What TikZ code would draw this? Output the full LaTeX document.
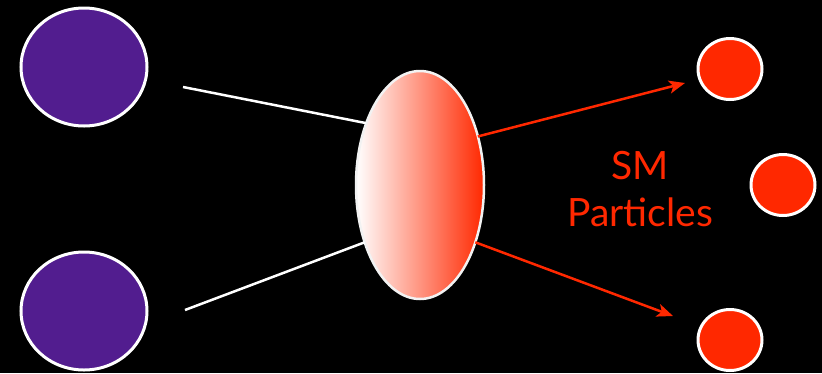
\documentclass[tikz,border=0pt]{standalone}
\usepackage{fontspec}
\setmainfont{Lato}
\usetikzlibrary{shapes.geometric,arrows.meta}
\definecolor{smred}{RGB}{255,40,0}
\definecolor{dmpurple}{RGB}{82,29,143}
\begin{document}
\begin{tikzpicture}[x=1pt, y=-1pt,
    incoming/.style={ellipse, draw=white, line width=3pt, fill=dmpurple, minimum width=126pt, minimum height=118pt, inner sep=0pt},
    outgoing/.style={ellipse, draw=white, line width=3pt, fill=smred, minimum width=64pt, minimum height=61pt, inner sep=0pt},
    leg/.style={draw=white, line width=2.5pt},
    decay/.style={draw=smred, line width=2.5pt, -{Stealth[length=16pt,width=13pt,inset=4pt]}}]
    \fill[black] (0,0) rectangle (822,373);
    \useasboundingbox (0,0) rectangle (822,373);
    \node[incoming] (dmA) at (84,67) {};
    \node[incoming] (dmB) at (84,311) {};
    \node[ellipse, draw=white!90!gray, line width=2.5pt, left color=white, right color=smred, minimum width=128pt, minimum height=228pt, inner sep=0pt, outer sep=0pt] (blob) at (420,185) {};
    \node[outgoing] (smA) at (730,69) {};
    \node[outgoing] (smB) at (783,185) {};
    \node[outgoing] (smC) at (730,340) {};
    \node[text=smred, align=center, font=\fontsize{39}{47}\selectfont] (label) at (640,189) {SM\\Particles};
    \coordinate (inA) at (183,87);
    \coordinate (inB) at (185,310);
    \coordinate (outA) at (685,83);
    \coordinate (outB) at (673,316);
    \draw[leg] (inA) -- (blob.131.6);
    \draw[leg] (inB) -- (blob.226.5);
    \draw[decay] (blob.40) -- (outA);
    \draw[decay] (blob.-46.5) -- (outB);
\end{tikzpicture}
\end{document}
